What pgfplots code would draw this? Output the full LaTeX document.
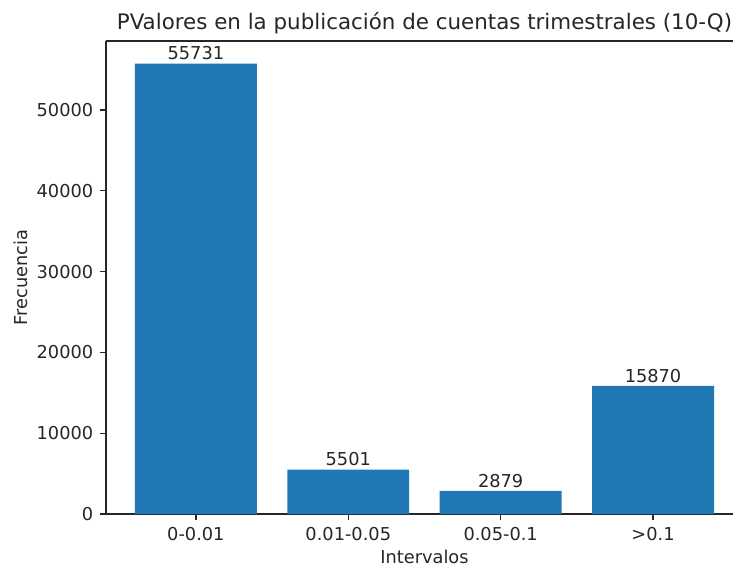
\documentclass[border=0pt]{standalone}
\usepackage{fontspec}
\setmainfont{DejaVu Sans}
\usepackage{pgfplots}
\pgfplotsset{compat=1.18}
\definecolor{tabblue}{HTML}{1F77B4}
\begin{document}
\begin{tikzpicture}
\begin{axis}[
  name=ax,
  scale only axis,
  width=458.6pt, height=340.6pt,
  xmin=-0.59, xmax=3.59,
  ymin=0, ymax=58517.6,
  axis x line*=box, axis y line*=left,
  xtick={0,1,2,3},
  xticklabels={0-0.01,0.01-0.05,0.05-0.1,>0.1},
  ytick={0,10000,20000,30000,40000,50000},
  scaled y ticks=false,
  yticklabel style={/pgf/number format/fixed,/pgf/number format/1000 sep={}},
  /pgf/number format/assume math mode=true,
  tick align=outside,
  major tick length=4.5pt,
  tick style={black!85, line width=1pt},
  axis line style={black!85, line width=1pt},
  xtick pos=bottom, ytick pos=left,
  tick label style={font=\fontsize{12.8}{15}\selectfont, black!85},
  xticklabel style={inner sep=0pt, yshift=-4.5pt, anchor=north},
  yticklabel style={inner sep=0pt, xshift=-4.5pt, anchor=east},
  label style={font=\fontsize{12.8}{15}\selectfont, black!85},
  xlabel={Intervalos},
  ylabel={Frecuencia},
  xlabel style={inner sep=0pt, anchor=north, yshift=-6.5pt},
  ylabel style={inner sep=0pt, anchor=south, yshift=6.5pt},
  title={PValores en la publicación de cuentas trimestrales (10-Q)},
  title style={font=\fontsize{15.4}{18}\selectfont, black!85, inner sep=0pt, anchor=base, yshift=2pt},
  ybar, bar width=0.8,
  nodes near coords,
  nodes near coords style={font=\fontsize{12.8}{15}\selectfont, black!85, anchor=base, inner sep=0pt, yshift=2.7pt, /pgf/number format/fixed, /pgf/number format/1000 sep={}},
]
\addplot[fill=tabblue, draw=none] coordinates {(0,55731) (1,5501) (2,2879) (3,15870)};
\end{axis}
\pgfresetboundingbox
\path[use as bounding box] ([xshift=-76.32pt,yshift=-38.88pt]ax.south west) rectangle ([xshift=451.44pt,yshift=29.52pt]ax.north west);
\end{tikzpicture}
\end{document}
